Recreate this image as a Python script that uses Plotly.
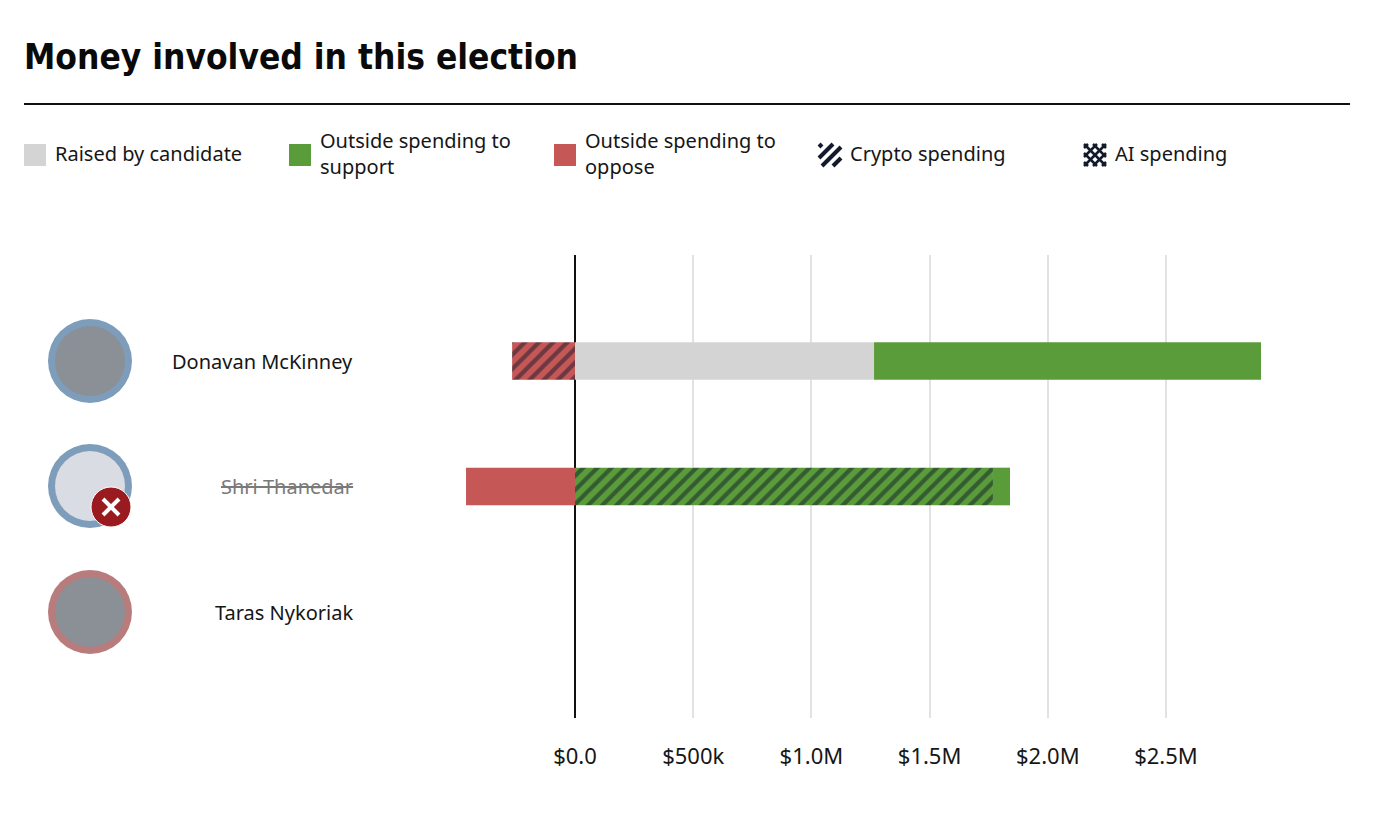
import plotly.graph_objects as go

# candidates, top to bottom
candidates = ["Donavan McKinney", "Shri Thanedar", "Taras Nykoriak"]
lost       = [False, True, False]
ring_color = ["#7d9dbb", "#7d9dbb", "#b87c7c"]

# dollars
raised         = [1265000, 0, 0]
support        = [1637000, 72000, 0]
support_crypto = [0, 1768000, 0]
oppose         = [0, -461000, 0]
oppose_crypto  = [-266000, 0, 0]

tick_vals = [0, 500000, 1000000, 1500000, 2000000, 2500000]
tick_text = ["$0.0", "$500k", "$1.0M", "$1.5M", "$2.0M", "$2.5M"]

legend_labels = ["Raised by candidate", "Outside spending to<br>support",
                 "Outside spending to<br>oppose", "Crypto spending", "AI spending"]

GREY  = "#d4d4d4"
GREEN = "#5a9c3a"
RED   = "#c65757"
NAVY  = "#121a2b"
TEXT  = "#161616"
FONT  = "Noto Sans, Open Sans, sans-serif"

# page has an 8px body margin, so the figure is a bit smaller than the window
OFF = 8
W, H = 1374 - OFF, 830 - OFF
L, R, T, B = 400 - OFF, 24, 255 - OFF, 112


def px(x):
    # page pixel -> paper x
    return (x - OFF - L) / (W - L - R)


def py(y):
    # page pixel -> paper y
    return (H - B - (y - OFF)) / (H - T - B)


fig = go.Figure()

bar_w = 0.30
stripes = dict(shape="/", fgcolor=NAVY, size=10, solidity=0.42)

fig.add_bar(y=candidates, x=oppose_crypto, orientation="h", width=bar_w,
            marker=dict(color=RED, line_width=0, pattern=dict(bgcolor=RED, **stripes)))
fig.add_bar(y=candidates, x=oppose, orientation="h", width=bar_w,
            marker=dict(color=RED, line_width=0))
fig.add_bar(y=candidates, x=raised, orientation="h", width=bar_w,
            marker=dict(color=GREY, line_width=0))
fig.add_bar(y=candidates, x=support_crypto, orientation="h", width=bar_w,
            marker=dict(color=GREEN, line_width=0, pattern=dict(bgcolor=GREEN, **stripes)))
fig.add_bar(y=candidates, x=support, orientation="h", width=bar_w,
            marker=dict(color=GREEN, line_width=0))

shapes = []
annotations = []

# title + rule
annotations.append(dict(text="<b>Money involved in this election</b>", x=px(22), y=py(57),
                        xref="paper", yref="paper", xanchor="left", yanchor="middle",
                        showarrow=False,
                        font=dict(family="DejaVu Sans Condensed, Liberation Sans Narrow, sans-serif",
                                  size=35, color="#0a0a0a")))
shapes.append(dict(type="line", xref="paper", yref="paper", x0=px(24), x1=px(1350),
                   y0=py(104), y1=py(104), line=dict(color="#111111", width=2)))

# legend
leg_x = [24, 289, 554, 819, 1084]
leg_fill = [GREY, GREEN, RED]
for i, lab in enumerate(legend_labels):
    x0 = leg_x[i]
    if i < 3:
        shapes.append(dict(type="rect", xref="paper", yref="paper", x0=px(x0), x1=px(x0 + 22),
                           y0=py(144), y1=py(166), fillcolor=leg_fill[i], line_width=0))
    else:
        # little hatched icons
        dirs = [1] if i == 3 else [1, -1]
        offs = [3, 14, 25, 36] if i == 3 else [4, 13, 22, 31, 40]
        lw = 4 if i == 3 else 2.5
        for d in dirs:
            for s in offs:
                if s <= 22:
                    a, b = (0, s), (s, 0)
                else:
                    a, b = (s - 22, 22), (22, s - 22)
                if d == 1:
                    xa, ya, xb, yb = a[0], a[1], b[0], b[1]
                else:
                    xa, ya, xb, yb = 22 - a[0], a[1], 22 - b[0], b[1]
                shapes.append(dict(type="line", xref="paper", yref="paper",
                                   x0=px(x0 + xa), y0=py(144 + ya), x1=px(x0 + xb), y1=py(144 + yb),
                                   line=dict(color=NAVY, width=lw)))
    annotations.append(dict(text=lab, x=px(x0 + 29), y=py(154), xref="paper", yref="paper",
                            xanchor="left", yanchor="middle", align="left", showarrow=False,
                            font=dict(family=FONT, size=20, color=TEXT)))

# candidate portraits (placeholders) and names
row_y = [361, 486, 612]
for i, name in enumerate(candidates):
    cy = row_y[i]
    shapes.append(dict(type="circle", xref="paper", yref="paper", x0=px(48), x1=px(132),
                       y0=py(cy - 42), y1=py(cy + 42), fillcolor=ring_color[i], line_width=0))
    shapes.append(dict(type="circle", xref="paper", yref="paper", x0=px(55), x1=px(125),
                       y0=py(cy - 35), y1=py(cy + 35),
                       fillcolor="#d9dde3" if lost[i] else "#8b8f96", line_width=0))
    if lost[i]:
        bx, by = 111, cy + 21
        shapes.append(dict(type="circle", xref="paper", yref="paper", x0=px(bx - 20), x1=px(bx + 20),
                           y0=py(by - 20), y1=py(by + 20), fillcolor="#9a1b1f",
                           line=dict(color="white", width=1)))
        for dx in (-1, 1):
            shapes.append(dict(type="line", xref="paper", yref="paper",
                               x0=px(bx - 8), y0=py(by - 8 * dx), x1=px(bx + 8), y1=py(by + 8 * dx),
                               line=dict(color="white", width=4)))
    annotations.append(dict(text=name, x=px(355), y=py(cy), xref="paper", yref="paper",
                            xanchor="right", yanchor="middle", showarrow=False,
                            font=dict(family=FONT, size=20,
                                      color="#7a7a7a" if lost[i] else TEXT,
                                      lineposition="through" if lost[i] else "none")))

x_lo = (400 - 575) / 236.4 * 1e6
x_hi = (1350 - 575) / 236.4 * 1e6

fig.update_layout(
    width=W, height=H,
    margin=dict(l=L, r=R, t=T, b=B),
    paper_bgcolor="white", plot_bgcolor="white",
    barmode="relative", showlegend=False,
    shapes=shapes, annotations=annotations,
    xaxis=dict(range=[x_lo, x_hi], tickvals=tick_vals, ticktext=tick_text,
               showgrid=True, gridcolor="#e2e2e2", gridwidth=2,
               zeroline=True, zerolinecolor="#111111", zerolinewidth=2,
               showline=False, ticks="", ticklabelstandoff=23,
               tickfont=dict(family=FONT, size=22, color=TEXT)),
    yaxis=dict(range=[2.845, -0.845], showticklabels=False, showgrid=False,
               zeroline=False, showline=False, ticks=""),
    hovermode=False,
)

fig.write_html("out.html", config=dict(displayModeBar=False))
